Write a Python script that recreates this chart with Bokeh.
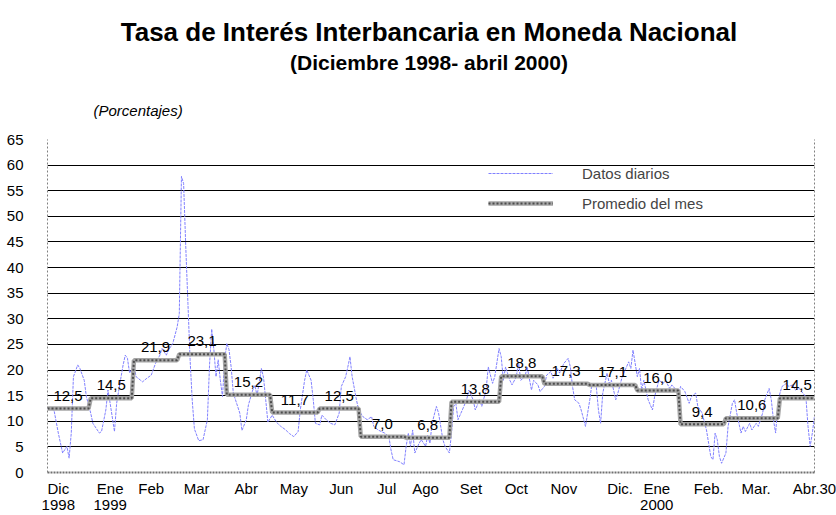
from bokeh.plotting import figure
from bokeh.layouts import column
from bokeh.models import Range1d, FixedTicker, Legend, LegendItem, LinearAxis
from bokeh.core.properties import value
from bokeh.embed import file_html
from bokeh.resources import INLINE

# ---------------- data ----------------
month_names = ["Dic 1998", "Ene 1999", "Feb 1999", "Mar 1999", "Abr 1999", "May 1999",
               "Jun 1999", "Jul 1999", "Ago 1999", "Set 1999", "Oct 1999", "Nov 1999",
               "Dic 1999", "Ene 2000", "Feb 2000", "Mar 2000", "Abr 2000"]
month_days = [20, 20, 21, 22, 21, 22, 19, 21, 21, 23, 20, 21, 22, 20, 21, 25, 17]
monthly_avg = [12.5, 14.5, 21.9, 23.1, 15.2, 11.7, 12.5, 7.0, 6.8, 13.8, 18.8,
               17.3, 17.1, 16.0, 9.4, 10.6, 14.5]

daily_day = [0, 3, 5, 7, 9, 10, 11, 12, 14, 15, 17, 18, 20, 21, 24, 25, 27, 28, 29, 31,
             32, 33, 35, 36, 37, 38, 40, 41, 44, 46, 48, 50, 52, 53, 55, 56, 58, 60, 61, 62,
             63, 64, 65, 66, 67, 68, 70, 72, 74, 75, 76, 77, 78, 79, 80, 81, 82, 83, 84, 85,
             86, 89, 90, 92, 93, 95, 96, 97, 99, 100, 101, 102, 104, 106, 108, 110, 112, 114,
             116, 117, 119, 120, 122, 123, 124, 126, 127, 129, 131, 133, 135, 136, 138, 139,
             140, 141, 143, 144, 146, 148, 150, 151, 153, 156, 158, 159, 160, 163, 165, 166,
             167, 168, 169, 170, 172, 173, 175, 176, 177, 178, 180, 181, 183, 184, 186, 187,
             188, 189, 190, 192, 194, 195, 197, 198, 200, 201, 203, 204, 206, 207, 209, 210,
             211, 212, 214, 215, 217, 218, 219, 221, 222, 224, 225, 227, 228, 230, 231, 233,
             234, 236, 237, 239, 241, 242, 243, 244, 246, 247, 249, 251, 252, 254, 255, 256,
             257, 259, 260, 261, 263, 264, 266, 268, 269, 270, 271, 273, 274, 275, 276, 278,
             280, 281, 283, 285, 286, 288, 289, 291, 292, 293, 295, 297, 298, 300, 301, 303,
             305, 306, 307, 308, 309, 310, 311, 312, 314, 315, 317, 318, 319, 321, 322, 323,
             325, 326, 328, 329, 331, 332, 334, 335, 336, 337, 338, 339, 340, 342, 343, 345,
             346, 348, 349, 351, 352, 353, 354, 355]
daily_rate = [12.5, 12.2, 7.7, 3.8, 5.1, 2.8, 7.7, 18.7, 21.0, 20.3, 18.0, 14.8, 11.6, 9.6,
              7.7, 8.0, 12.2, 16.1, 13.5, 8.0, 13.5, 16.1, 21.0, 22.9, 22.3, 19.4, 21.0, 18.7,
              17.7, 18.4, 19.0, 21.3, 22.9, 24.2, 22.9, 23.9, 25.2, 28.4, 31.0, 57.8, 56.4,
              44.0, 33.0, 22.0, 14.0, 8.5, 6.2, 6.4, 10.3, 21.0, 28.0, 24.0, 18.7, 22.0, 18.0,
              14.8, 22.0, 25.2, 24.0, 20.6, 15.5, 11.6, 8.2, 10.3, 13.2, 16.1, 17.0, 15.0,
              20.3, 18.5, 14.2, 9.8, 11.2, 9.8, 9.0, 8.4, 7.6, 7.0, 8.0, 12.2, 18.0, 20.0,
              18.0, 14.2, 9.6, 9.3, 11.2, 10.3, 9.6, 9.3, 11.6, 16.8, 18.7, 20.6, 22.6, 18.7,
              14.2, 12.2, 10.9, 10.3, 10.9, 9.0, 8.3, 7.7, 7.0, 4.4, 2.5, 2.1, 1.5, 5.1, 7.7,
              5.1, 8.3, 3.8, 5.7, 6.4, 5.1, 7.3, 5.7, 9.6, 12.9, 11.6, 6.4, 5.1, 3.8, 7.7,
              12.9, 13.5, 10.3, 12.2, 14.2, 16.1, 14.2, 12.2, 14.2, 12.9, 16.1, 20.6, 17.4,
              18.7, 24.2, 22.6, 18.0, 20.6, 18.0, 17.1, 18.7, 21.6, 18.0, 18.7, 20.6, 16.1,
              18.0, 17.1, 15.8, 16.8, 19.0, 19.7, 18.4, 20.3, 19.4, 21.3, 22.3, 20.6, 16.8,
              14.2, 13.5, 12.2, 9.0, 14.2, 17.4, 16.8, 12.2, 9.6, 15.5, 19.4, 17.4, 18.0,
              14.2, 15.5, 18.7, 20.6, 21.6, 20.3, 23.9, 18.7, 20.3, 16.1, 18.0, 14.2, 12.2,
              14.8, 18.0, 17.4, 18.0, 16.4, 17.1, 16.1, 14.8, 16.8, 15.8, 13.5, 14.8, 15.5,
              12.9, 11.6, 8.3, 5.7, 3.1, 2.5, 7.7, 6.4, 3.1, 1.8, 3.8, 9.0, 13.5, 14.2, 11.6,
              7.7, 9.0, 8.0, 9.6, 8.3, 9.6, 9.0, 11.6, 14.2, 16.4, 14.2, 10.3, 7.7, 12.9,
              15.5, 16.8, 17.4, 16.8, 17.1, 16.1, 16.4, 15.8, 14.8, 9.0, 5.1, 7.7, 11.0]

tick_labels = ["Dic\n1998", "Ene\n1999", "Feb", "Mar", "Abr", "May", "Jun", "Jul", "Ago",
               "Set", "Oct", "Nov", "Dic.", "Ene\n2000", "Feb.", "Mar.", "Abr.30"]
tick_days = [5, 29, 48, 69, 92, 114, 136, 157, 175, 196, 217, 239, 265, 282, 306, 328, 355]
y_ticks = [0, 5, 10, 15, 20, 25, 30, 35, 40, 45, 50, 55, 60, 65]

title_text = "Tasa de Interés Interbancaria en Moneda Nacional"
subtitle_text = "(Diciembre 1998- abril 2000)"
units_text = "(Porcentajes)"

FONT = "Liberation Sans"
W = 836
HEAD_H = 120
MAIN_H = 395
LEFT = 47
RIGHT = 22

# -------------- derived (monthly step) --------------
starts = []
acc = 0
for n in month_days:
    starts.append(acc)
    acc += n
last_day = acc - 1

step_x, step_y, lab_x, lab_y, lab_t = [], [], [], [], []
for s, n, v in zip(starts, month_days, monthly_avg):
    e = s + n - 1
    step_x += [s, e]
    step_y += [v, v]
    lab_x.append((s + e) / 2)
    lab_y.append(v + 2.5)
    lab_t.append(f"{v:.1f}".replace(".", ","))

# -------------- heading (titles); pixel coordinates of the page --------------
head = figure(width=W, height=HEAD_H, output_backend="svg", toolbar_location=None, title=None,
              x_range=Range1d(LEFT, W - RIGHT), y_range=Range1d(HEAD_H, 0),
              x_axis_location=None, y_axis_location=None,
              min_border_left=LEFT, min_border_right=RIGHT, min_border_top=0,
              min_border_bottom=0)
head.outline_line_color = None
head.grid.visible = False
head.background_fill_color = "white"
head.border_fill_color = "white"
head.text(x=[428.5], y=[31.5], text=[title_text], text_font=value(FONT),
          text_font_size=value("26px"), text_font_style="bold", text_color="black",
          text_align="center", text_baseline="middle")
head.text(x=[428.5], y=[62], text=[subtitle_text], text_font=value(FONT),
          text_font_size=value("21px"), text_font_style="bold", text_color="black",
          text_align="center", text_baseline="middle")
head.text(x=[93], y=[110], text=[units_text], text_font=value(FONT),
          text_font_size=value("15px"), text_font_style="italic", text_color="black",
          text_align="left", text_baseline="middle")

# -------------- main chart --------------
p = figure(width=W, height=MAIN_H, output_backend="svg", toolbar_location=None, title=None,
           x_range=Range1d(0, last_day), y_range=Range1d(0, 65),
           min_border_left=LEFT, min_border_right=RIGHT, min_border_top=19,
           min_border_bottom=43)
p.background_fill_color = "white"
p.border_fill_color = "white"
p.outline_line_color = None

p.xgrid.visible = False
p.ygrid.ticker = FixedTicker(ticks=y_ticks[1:])
p.ygrid.grid_line_color = "black"
p.ygrid.grid_line_width = 1

p.yaxis.ticker = FixedTicker(ticks=y_ticks)
p.yaxis.major_tick_line_color = None
p.yaxis.minor_tick_line_color = None
p.yaxis.major_label_standoff = 18
p.yaxis.major_label_text_font = FONT
p.yaxis.major_label_text_font_size = "15px"
p.yaxis.major_label_text_color = "black"
p.yaxis.axis_line_color = "#808080"
p.yaxis.axis_line_dash = "2 2"

# right border of the plot area (dotted, no labels)
right_axis = LinearAxis(ticker=FixedTicker(ticks=[]), axis_line_color="#808080",
                        axis_line_dash="2 2", major_tick_line_color=None,
                        minor_tick_line_color=None, major_label_text_font_size="0px")
p.add_layout(right_axis, "right")

p.xaxis.ticker = FixedTicker(ticks=tick_days)
p.xaxis.major_label_overrides = {d: t for d, t in zip(tick_days, tick_labels)}
p.xaxis.major_tick_line_color = None
p.xaxis.minor_tick_line_color = None
p.xaxis.major_label_standoff = 1
p.xaxis.major_label_text_font = FONT
p.xaxis.major_label_text_font_size = "15px"
p.xaxis.major_label_text_color = "black"
p.xaxis.major_label_text_line_height = 0.95
p.xaxis.axis_line_color = "#707070"
p.xaxis.axis_line_width = 2
p.xaxis.axis_line_dash = "2 1"

r_daily = p.line(daily_day, daily_rate, line_color="#8080ff", line_width=1, line_dash="3 1")
r_base = p.line(step_x, step_y, line_color="#a6a6a6", line_width=4.5)
r_top = p.line(step_x, step_y, line_color="#4d4d4d", line_width=2, line_dash="2 2")

p.text(x=lab_x, y=lab_y, text=lab_t, text_font=value(FONT), text_font_size=value("15px"),
       text_align="center", text_baseline="middle", text_color="black")

legend = Legend(items=[LegendItem(label="Datos diarios", renderers=[r_daily]),
                       LegendItem(label="Promedio del mes", renderers=[r_base, r_top])],
                location=(441, 259), orientation="vertical", border_line_color=None,
                background_fill_alpha=0, padding=0, spacing=10, margin=0,
                glyph_width=65, glyph_height=20, label_height=20, label_standoff=29,
                label_text_font=FONT, label_text_font_size="15px")
p.add_layout(legend)

layout = column(head, p, spacing=0)
open("out.html", "w").write(file_html(layout, INLINE))
